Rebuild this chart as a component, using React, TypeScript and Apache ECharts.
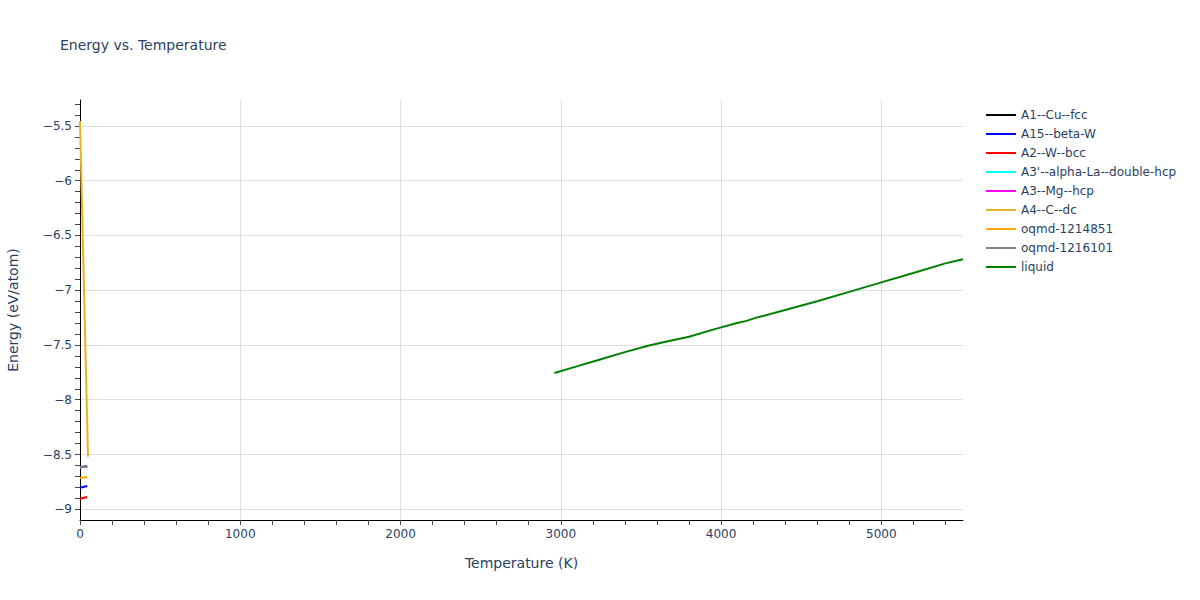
import React, { useEffect, useRef } from "react";
import * as echarts from "echarts";

const seriesNames = [
  "A1--Cu--fcc",
  "A15--beta-W",
  "A2--W--bcc",
  "A3'--alpha-La--double-hcp",
  "A3--Mg--hcp",
  "A4--C--dc",
  "oqmd-1214851",
  "oqmd-1216101",
  "liquid",
];
const seriesColors = [
  "#000000",
  "#0000ff",
  "#ff0000",
  "#00ffff",
  "#ff00ff",
  "#e6b422",
  "#ffa500",
  "#808080",
  "#008000",
];

const a1Data = [[0, -8.617], [45, -8.608]];
const a15Data = [[0, -8.803], [45, -8.788]];
const a2Data = [[0, -8.904], [45, -8.888]];
const a3pData = [[0, -8.618], [45, -8.609]];
const a3Data = [[0, -8.616], [45, -8.607]];
const a4Data = [[0, -5.455], [50, -8.52]];
const oqmd1214851Data = [[0, -8.715], [45, -8.705]];
const oqmd1216101Data = [[0, -8.617], [45, -8.608]];
const liquidData = [
  [2960, -7.755],
  [3100, -7.695],
  [3250, -7.63],
  [3400, -7.565],
  [3550, -7.505],
  [3640, -7.475],
  [3800, -7.425],
  [3950, -7.36],
  [4100, -7.3],
  [4160, -7.28],
  [4210, -7.255],
  [4400, -7.18],
  [4600, -7.1],
  [4800, -7.015],
  [5000, -6.928],
  [5200, -6.843],
  [5400, -6.755],
  [5510, -6.718],
];
const allData = [a1Data, a15Data, a2Data, a3pData, a3Data, a4Data, oqmd1214851Data, oqmd1216101Data, liquidData];

const xMajorTicks = [0, 1000, 2000, 3000, 4000, 5000];
const xMinorTicks = [
  0, 200, 400, 600, 800, 1000, 1200, 1400, 1600, 1800, 2000, 2200, 2400, 2600, 2800, 3000, 3200,
  3400, 3600, 3800, 4000, 4200, 4400, 4600, 4800, 5000, 5200, 5400,
];
const yMajorTicks = [-9, -8.5, -8, -7.5, -7, -6.5, -6, -5.5];
const yMinorTicks = [
  -9, -8.9, -8.8, -8.7, -8.6, -8.5, -8.4, -8.3, -8.2, -8.1, -8, -7.9, -7.8, -7.7, -7.6, -7.5, -7.4,
  -7.3, -7.2, -7.1, -7, -6.9, -6.8, -6.7, -6.6, -6.5, -6.4, -6.3, -6.2, -6.1, -6, -5.9, -5.8, -5.7,
  -5.6, -5.5, -5.4, -5.3,
];

const X_MIN = 0;
const X_MAX = 5510;
const Y_MIN = -9.098;
const Y_MAX = -5.263;

const FONT = "'DejaVu Sans', Verdana, sans-serif";
const TEXT = "#2a3f5f";

export default function App() {
  const ref = useRef<HTMLDivElement>(null);
  useEffect(() => {
    if (!ref.current) return;
    const chart = echarts.init(ref.current, undefined, { renderer: "svg" });
    const fmtY = (v: number) => String(v).replace("-", "\u2212");
    const fmtX = (v: number) => String(v);
    chart.setOption({
      animation: false,
      backgroundColor: "#ffffff",
      title: {
        text: "Energy vs. Temperature",
        left: 55,
        top: 33,
        textStyle: { fontFamily: FONT, fontSize: 14, fontWeight: "normal", color: TEXT },
      },
      legend: {
        orient: "vertical",
        left: 981,
        top: 104,
        itemWidth: 30,
        itemHeight: 2,
        itemGap: 7,
        icon: "rect",
        textStyle: { fontFamily: FONT, fontSize: 12, color: TEXT },
        data: seriesNames,
      },
      grid: {
        left: 80,
        top: 100,
        right: 237,
        bottom: 80,
        containLabel: false,
        outerBoundsMode: "none",
      },
      xAxis: [
        {
          type: "value",
          min: X_MIN,
          max: X_MAX,
          name: "Temperature (K)",
          nameLocation: "middle",
          nameGap: 36,
          nameTextStyle: { fontFamily: FONT, fontSize: 14, color: TEXT },
          axisLine: { show: true, onZero: false, lineStyle: { color: "#000", width: 1 } },
          axisTick: { show: false, customValues: xMajorTicks },
          axisLabel: {
            customValues: xMajorTicks,
            fontFamily: FONT,
            fontSize: 12,
            color: TEXT,
            margin: 8,
            formatter: fmtX,
          },
          splitLine: { show: true, lineStyle: { color: "#dedede", width: 1 } },
        },
        {
          type: "value",
          min: X_MIN,
          max: X_MAX,
          position: "bottom",
          axisLine: { show: false },
          axisTick: { show: true, customValues: xMinorTicks, length: 5, lineStyle: { color: "#444" } },
          axisLabel: { show: false },
          splitLine: { show: false },
        },
      ],
      yAxis: [
        {
          type: "value",
          min: Y_MIN,
          max: Y_MAX,
          name: "Energy (eV/atom)",
          nameLocation: "middle",
          nameGap: 60,
          nameTextStyle: { fontFamily: FONT, fontSize: 14, color: TEXT },
          axisLine: { show: true, onZero: false, lineStyle: { color: "#000", width: 1 } },
          axisTick: { show: false, customValues: yMajorTicks },
          axisLabel: {
            customValues: yMajorTicks,
            fontFamily: FONT,
            fontSize: 12,
            color: TEXT,
            margin: 8,
            formatter: fmtY,
          },
          splitLine: { show: true, lineStyle: { color: "#dedede", width: 1 } },
        },
        {
          type: "value",
          min: Y_MIN,
          max: Y_MAX,
          position: "left",
          axisLine: { show: false },
          axisTick: { show: true, customValues: yMinorTicks, length: 5, lineStyle: { color: "#444" } },
          axisLabel: { show: false },
          splitLine: { show: false },
        },
      ],
      series: seriesNames.map((name, i) => ({
        name,
        type: "line",
        data: allData[i],
        xAxisIndex: 0,
        yAxisIndex: 0,
        showSymbol: false,
        symbol: "none",
        lineStyle: { color: seriesColors[i], width: 2 },
        itemStyle: { color: seriesColors[i] },
        z: 2 + i,
      })),
    });
    return () => chart.dispose();
  }, []);
  return <div ref={ref} style={{ width: 1200, height: 600, position: "absolute", left: 0, top: 0 }} />;
}
